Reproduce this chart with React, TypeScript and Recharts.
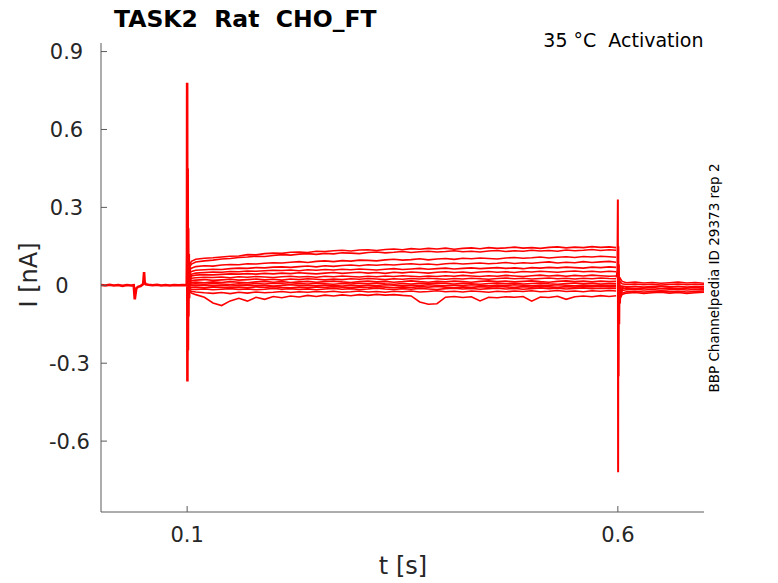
import React from 'react';
import { LineChart, Line, XAxis, YAxis } from 'recharts';

// ---- time bases (s) ----
const preTime = [
  0, 0.005, 0.01, 0.015, 0.02, 0.025, 0.03, 0.035, 0.038, 0.0392, 0.0398, 0.041, 0.043, 0.046,
  0.049, 0.05, 0.0507, 0.052, 0.055, 0.06, 0.065, 0.07, 0.075, 0.08, 0.085, 0.09, 0.095, 0.0995,
  0.0998, 0.1, 0.1003, 0.1006, 0.1009, 0.1012, 0.1015, 0.1019, 0.1023, 0.1028, 0.1035, 0.104,
];
const preCurrent = [
  0.001, -0.001, 0.002, -0.001, 0.001, -0.002, 0.001, -0.001, 0.0, -0.054, -0.04, -0.012, -0.006, -0.003,
  0.005, 0.051, 0.012, 0.004, 0.002, 0.0, 0.002, -0.001, 0.001, -0.001, 0.001, 0.0, 0.001, 0.0,
  0.12, 0.78, -0.37, 0.45, -0.25, 0.22, -0.12, 0.12, -0.05, 0.07, 0.0, 0.04,
];

const offTime = [0.5985, 0.5995, 0.6, 0.6003, 0.6006, 0.6009, 0.6012, 0.6016, 0.602, 0.6025, 0.603, 0.604, 0.606];
const offCurrent = [0.03, 0.06, 0.33, -0.72, 0.15, -0.35, 0.08, -0.15, 0.03, -0.07, 0.0, -0.03, -0.005];

const stepTime = [
  0.102, 0.105, 0.11, 0.12, 0.13, 0.14, 0.15, 0.16, 0.17, 0.18, 0.19, 0.2, 0.21, 0.22, 0.23, 0.24,
  0.25, 0.26, 0.27, 0.28, 0.29, 0.3, 0.31, 0.32, 0.33, 0.34, 0.35, 0.36, 0.37, 0.38, 0.39, 0.4,
  0.41, 0.42, 0.43, 0.44, 0.45, 0.46, 0.47, 0.48, 0.49, 0.5, 0.51, 0.52, 0.53, 0.54, 0.55, 0.56,
  0.57, 0.58, 0.59, 0.598,
];

const trace01 = [0.075, 0.092, 0.100, 0.104, 0.106, 0.109, 0.112, 0.113, 0.118, 0.117, 0.122, 0.124, 0.123, 0.127, 0.128, 0.126, 0.131, 0.130, 0.133, 0.135, 0.132, 0.136, 0.137, 0.134, 0.138, 0.140, 0.137, 0.141, 0.139, 0.142, 0.140, 0.143, 0.139, 0.142, 0.144, 0.141, 0.145, 0.142, 0.144, 0.147, 0.143, 0.145, 0.142, 0.146, 0.148, 0.144, 0.147, 0.145, 0.149, 0.146, 0.148, 0.145];
const trace02 = [0.065, 0.082, 0.090, 0.094, 0.097, 0.101, 0.103, 0.107, 0.109, 0.112, 0.111, 0.115, 0.118, 0.116, 0.120, 0.122, 0.119, 0.123, 0.121, 0.125, 0.124, 0.122, 0.126, 0.128, 0.125, 0.127, 0.130, 0.126, 0.129, 0.131, 0.128, 0.130, 0.133, 0.129, 0.131, 0.128, 0.132, 0.134, 0.130, 0.133, 0.131, 0.135, 0.132, 0.134, 0.131, 0.136, 0.133, 0.135, 0.138, 0.134, 0.137, 0.135];
const trace03 = [0.055, 0.066, 0.072, 0.075, 0.074, 0.078, 0.080, 0.079, 0.083, 0.082, 0.085, 0.087, 0.086, 0.089, 0.091, 0.088, 0.092, 0.094, 0.091, 0.095, 0.093, 0.097, 0.096, 0.094, 0.098, 0.100, 0.097, 0.099, 0.102, 0.098, 0.101, 0.103, 0.100, 0.104, 0.102, 0.105, 0.103, 0.101, 0.105, 0.107, 0.104, 0.106, 0.109, 0.105, 0.108, 0.110, 0.107, 0.111, 0.109, 0.112, 0.110, 0.108];
const trace04 = [0.045, 0.053, 0.058, 0.060, 0.062, 0.061, 0.064, 0.066, 0.065, 0.068, 0.067, 0.070, 0.071, 0.069, 0.072, 0.074, 0.071, 0.075, 0.073, 0.076, 0.078, 0.075, 0.079, 0.077, 0.080, 0.078, 0.081, 0.083, 0.080, 0.082, 0.079, 0.083, 0.085, 0.082, 0.084, 0.086, 0.083, 0.085, 0.088, 0.084, 0.087, 0.085, 0.088, 0.090, 0.086, 0.089, 0.087, 0.091, 0.088, 0.090, 0.092, 0.089];
const trace05 = [0.036, 0.043, 0.047, 0.049, 0.051, 0.050, 0.053, 0.052, 0.055, 0.054, 0.056, 0.058, 0.057, 0.059, 0.056, 0.060, 0.058, 0.061, 0.059, 0.062, 0.060, 0.063, 0.061, 0.059, 0.062, 0.064, 0.061, 0.063, 0.065, 0.062, 0.064, 0.066, 0.063, 0.065, 0.067, 0.064, 0.066, 0.068, 0.065, 0.067, 0.064, 0.068, 0.066, 0.069, 0.067, 0.070, 0.068, 0.066, 0.070, 0.068, 0.071, 0.069];
const trace06 = [0.030, 0.036, 0.039, 0.041, 0.040, 0.042, 0.044, 0.043, 0.045, 0.043, 0.046, 0.044, 0.047, 0.045, 0.048, 0.046, 0.044, 0.047, 0.049, 0.046, 0.048, 0.050, 0.047, 0.049, 0.046, 0.050, 0.048, 0.051, 0.049, 0.047, 0.050, 0.052, 0.049, 0.051, 0.048, 0.051, 0.053, 0.050, 0.052, 0.049, 0.053, 0.051, 0.054, 0.052, 0.050, 0.053, 0.055, 0.052, 0.054, 0.051, 0.054, 0.052];
const trace07 = [0.022, 0.027, 0.029, 0.031, 0.030, 0.032, 0.029, 0.033, 0.031, 0.034, 0.032, 0.030, 0.033, 0.035, 0.032, 0.034, 0.031, 0.035, 0.033, 0.036, 0.034, 0.032, 0.035, 0.033, 0.036, 0.034, 0.037, 0.035, 0.033, 0.036, 0.034, 0.037, 0.035, 0.038, 0.036, 0.034, 0.037, 0.035, 0.038, 0.036, 0.034, 0.037, 0.039, 0.036, 0.038, 0.035, 0.038, 0.036, 0.039, 0.037, 0.035, 0.036];
const trace08 = [0.014, 0.018, 0.020, 0.022, 0.019, 0.021, 0.023, 0.020, 0.022, 0.024, 0.021, 0.023, 0.020, 0.024, 0.022, 0.025, 0.023, 0.021, 0.024, 0.022, 0.025, 0.023, 0.026, 0.024, 0.022, 0.025, 0.023, 0.026, 0.024, 0.027, 0.025, 0.023, 0.026, 0.024, 0.027, 0.025, 0.023, 0.026, 0.028, 0.025, 0.027, 0.024, 0.026, 0.028, 0.025, 0.027, 0.024, 0.027, 0.025, 0.028, 0.026, 0.025];
const trace09 = [0.008, 0.011, 0.012, 0.010, 0.013, 0.011, 0.014, 0.012, 0.010, 0.013, 0.015, 0.012, 0.014, 0.011, 0.013, 0.015, 0.012, 0.014, 0.016, 0.013, 0.011, 0.014, 0.016, 0.013, 0.015, 0.012, 0.014, 0.017, 0.014, 0.012, 0.015, 0.013, 0.016, 0.014, 0.012, 0.015, 0.017, 0.014, 0.016, 0.013, 0.015, 0.017, 0.014, 0.012, 0.015, 0.017, 0.014, 0.016, 0.013, 0.016, 0.014, 0.015];
const trace10 = [0.003, 0.005, 0.006, 0.004, 0.007, 0.005, 0.003, 0.006, 0.004, 0.007, 0.005, 0.008, 0.006, 0.004, 0.007, 0.005, 0.008, 0.006, 0.004, 0.007, 0.005, 0.008, 0.006, 0.009, 0.006, 0.004, 0.007, 0.005, 0.008, 0.006, 0.009, 0.007, 0.005, 0.008, 0.006, 0.004, 0.007, 0.009, 0.006, 0.008, 0.005, 0.007, 0.009, 0.006, 0.004, 0.007, 0.009, 0.006, 0.008, 0.005, 0.007, 0.006];
const trace11 = [-0.002, 0.0, -0.001, 0.001, -0.002, 0.0, -0.003, -0.001, 0.001, -0.002, 0.0, -0.003, -0.001, 0.002, -0.001, 0.0, -0.002, 0.001, -0.001, -0.003, 0.0, -0.002, 0.001, -0.001, 0.002, 0.0, -0.002, 0.001, -0.001, 0.002, 0.0, -0.002, 0.001, -0.001, 0.002, 0.0, -0.002, 0.001, -0.001, 0.002, 0.0, -0.002, 0.001, -0.001, 0.002, 0.0, -0.002, 0.001, -0.001, 0.001, -0.001, 0.0];
const trace12 = [-0.006, -0.008, -0.007, -0.009, -0.006, -0.008, -0.010, -0.007, -0.009, -0.006, -0.008, -0.005, -0.008, -0.010, -0.007, -0.009, -0.006, -0.008, -0.005, -0.007, -0.009, -0.006, -0.008, -0.005, -0.007, -0.009, -0.006, -0.008, -0.005, -0.007, -0.004, -0.007, -0.009, -0.006, -0.008, -0.005, -0.007, -0.004, -0.006, -0.008, -0.005, -0.007, -0.004, -0.006, -0.008, -0.005, -0.007, -0.004, -0.006, -0.003, -0.006, -0.005];
const trace13 = [-0.012, -0.015, -0.016, -0.014, -0.017, -0.015, -0.013, -0.016, -0.014, -0.017, -0.015, -0.012, -0.015, -0.013, -0.016, -0.014, -0.017, -0.014, -0.012, -0.015, -0.013, -0.016, -0.014, -0.011, -0.014, -0.016, -0.013, -0.015, -0.012, -0.014, -0.016, -0.013, -0.011, -0.014, -0.012, -0.015, -0.013, -0.011, -0.014, -0.012, -0.015, -0.013, -0.010, -0.013, -0.011, -0.014, -0.012, -0.010, -0.013, -0.011, -0.012, -0.012];
const trace14 = [-0.018, -0.023, -0.026, -0.029, -0.031, -0.028, -0.032, -0.027, -0.030, -0.026, -0.029, -0.027, -0.024, -0.028, -0.025, -0.027, -0.024, -0.026, -0.023, -0.027, -0.025, -0.022, -0.026, -0.024, -0.027, -0.023, -0.025, -0.022, -0.026, -0.024, -0.021, -0.025, -0.023, -0.026, -0.022, -0.024, -0.027, -0.023, -0.025, -0.022, -0.024, -0.021, -0.025, -0.023, -0.020, -0.024, -0.022, -0.025, -0.021, -0.023, -0.020, -0.022];
const trace15 = [-0.020, -0.030, -0.036, -0.046, -0.068, -0.078, -0.060, -0.050, -0.061, -0.046, -0.054, -0.043, -0.048, -0.041, -0.045, -0.039, -0.043, -0.038, -0.041, -0.037, -0.040, -0.036, -0.039, -0.035, -0.038, -0.036, -0.039, -0.041, -0.064, -0.073, -0.071, -0.046, -0.043, -0.047, -0.044, -0.060, -0.046, -0.048, -0.044, -0.046, -0.043, -0.061, -0.045, -0.047, -0.042, -0.054, -0.044, -0.041, -0.044, -0.040, -0.043, -0.040];

const tailTime = [0.602, 0.605, 0.61, 0.62, 0.63, 0.64, 0.65, 0.66, 0.67, 0.68, 0.69, 0.7];
const tail1 = [0.030, 0.015, 0.010, 0.012, 0.009, 0.011, 0.008, 0.010, 0.012, 0.009, 0.011, 0.008];
const tail2 = [0.015, 0.006, 0.003, 0.005, 0.002, 0.004, 0.001, 0.003, 0.005, 0.002, 0.004, 0.002];
const tail3 = [-0.005, -0.003, -0.006, -0.004, -0.007, -0.005, -0.003, -0.006, -0.004, -0.007, -0.005, -0.006];
const tail4 = [-0.020, -0.012, -0.010, -0.013, -0.011, -0.009, -0.012, -0.010, -0.013, -0.011, -0.009, -0.012];
const tail5 = [-0.035, -0.020, -0.017, -0.015, -0.018, -0.016, -0.019, -0.017, -0.015, -0.018, -0.016, -0.017];
const tail6 = [-0.045, -0.030, -0.025, -0.023, -0.026, -0.024, -0.022, -0.025, -0.023, -0.026, -0.024, -0.022];
const tail7 = [-0.055, -0.035, -0.030, -0.028, -0.031, -0.029, -0.027, -0.030, -0.028, -0.031, -0.029, -0.027];

const xTicks = [0.1, 0.6];
const yTicks = [-0.6, -0.3, 0, 0.3, 0.6, 0.9];

const stepTraces = [trace01, trace02, trace03, trace04, trace05, trace06, trace07, trace08, trace09, trace10, trace11, trace12, trace13, trace14, trace15];
const tailTraces = [tail1, tail2, tail3, tail4, tail5, tail6, tail7];

const toPoints = (times: number[], values: number[]) => values.map((v, i) => ({ t: times[i], v }));

const FONT = '"DejaVu Sans", sans-serif';
const AXIS = '#5a5a5a';
const TEXT = '#262626';
const RED = '#ff0000';

const XTick = (props: any) => {
  const { x, y, payload } = props;
  return (
    <g>
      <line x1={x} x2={x} y1={y} y2={y - 6} stroke={AXIS} strokeWidth={1} />
      <text x={x} y={y + 29.5} textAnchor="middle" fontSize={21} fill={TEXT} fontFamily={FONT}>
        {String(payload.value)}
      </text>
    </g>
  );
};

const YTick = (props: any) => {
  const { x, y, payload } = props;
  const v = payload.value as number;
  const off = v === 0 ? 39 : v < 0 ? 31.5 : 34.5;
  return (
    <g>
      <line x1={x} x2={x + 6} y1={y} y2={y} stroke={AXIS} strokeWidth={1} />
      <text x={x - off} y={y + 7.5} textAnchor="middle" fontSize={21} fill={TEXT} fontFamily={FONT}>
        {String(v)}
      </text>
    </g>
  );
};

export default function App() {
  const lineProps = { dataKey: 'v', stroke: RED, dot: false, isAnimationActive: false, type: 'linear' as const, activeDot: false };
  return (
    <div style={{ position: 'absolute', left: 0, top: 0, width: 778, height: 583, background: '#fff' }}>
      <LineChart width={778} height={583} margin={{ top: 43, right: 74, bottom: 31, left: 1 }}>
        <XAxis
          dataKey="t"
          type="number"
          domain={[0, 0.7]}
          allowDataOverflow
          ticks={xTicks}
          interval={0}
          tickSize={0}
          tickMargin={0}
          tickLine={false}
          axisLine={{ stroke: AXIS, strokeWidth: 1 }}
          tick={<XTick />}
          height={40}
        />
        <YAxis
          type="number"
          domain={[-0.873, 0.933]}
          allowDataOverflow
          ticks={yTicks}
          interval={0}
          tickSize={0}
          tickMargin={0}
          tickLine={false}
          axisLine={{ stroke: AXIS, strokeWidth: 1 }}
          tick={<YTick />}
          width={100}
        />
        <Line {...lineProps} data={toPoints(preTime, preCurrent)} strokeWidth={2.6} name="pre" />
        {stepTraces.map((tr, i) => (
          <Line key={'s' + i} {...lineProps} data={toPoints(stepTime, tr)} strokeWidth={1.6} name={'step' + i} />
        ))}
        <Line {...lineProps} data={toPoints(offTime, offCurrent)} strokeWidth={2} name="off" />
        {tailTraces.map((tr, i) => (
          <Line key={'t' + i} {...lineProps} data={toPoints(tailTime, tr)} strokeWidth={1.6} name={'tail' + i} />
        ))}
      </LineChart>
      <svg width={778} height={583} style={{ position: 'absolute', left: 0, top: 0, pointerEvents: 'none' }}>
        <text x={114} y={27} fontSize={23.5} fontWeight="bold" fill="#000" fontFamily={FONT} style={{ whiteSpace: 'pre' }}>
          {'TASK2  Rat  CHO_FT'}
        </text>
        <text x={703.5} y={47} textAnchor="end" fontSize={19} fill="#000" fontFamily={FONT} style={{ whiteSpace: 'pre' }}>
          {'35 °C  Activation'}
        </text>
        <text x={719} y={278} textAnchor="middle" fontSize={13.5} fill="#000" fontFamily={FONT} transform="rotate(-90 719 278)">
          BBP Channelpedia ID 29373 rep 2
        </text>
        <text x={37} y={275} textAnchor="middle" fontSize={24} fill={TEXT} fontFamily={FONT} transform="rotate(-90 37 275)" style={{ whiteSpace: 'pre' }}>
          {'I [nA]'}
        </text>
        <text x={403} y={574} textAnchor="middle" fontSize={24} fill={TEXT} fontFamily={FONT}>
          t [s]
        </text>
      </svg>
    </div>
  );
}
